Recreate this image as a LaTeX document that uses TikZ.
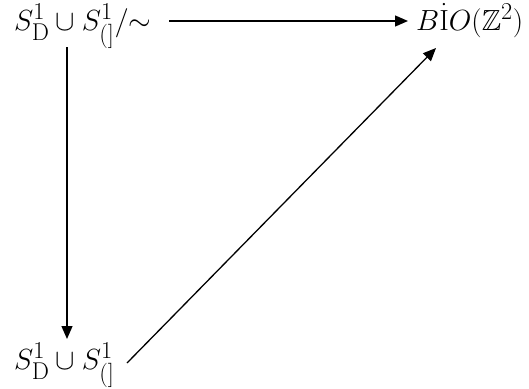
\documentclass[tikz,border=0pt]{standalone}
\usepackage{amssymb}
\usetikzlibrary{arrows.meta}
\begin{document}
\begin{tikzpicture}[x=1pt, y=-1pt, >={Triangle[length=13pt, width=11pt]},
    lbl/.style={anchor=base west, inner sep=0pt, scale=1.17, font=\fontsize{24.88}{30}\selectfont},
    map/.style={->, line width=1.3pt}]
    \useasboundingbox (0,0) rectangle (529,388);

    % Corners of the triangle
    \node[lbl] (quot) at (14, 30) {$S^1_{\mathrm{D}} \cup S^1_{(]}/{\sim}$};
    \node[lbl] (bio)  at (416, 30) {$B\dot{\mathrm{I}}O(\mathbb{Z}^2)$};
    \node[lbl] (disj) at (14, 369) {$S^1_{\mathrm{D}} \cup S^1_{(]}$};

    % Ends of the maps
    \coordinate (qe) at (169, 21);
    \coordinate (be) at (408, 21);
    \coordinate (top) at (67, 47);
    \coordinate (bot) at (67, 339);
    \coordinate (de) at (127, 363);
    \coordinate (tip) at (436, 48);

    % Maps
    \draw[map] (qe) -- (be);
    \draw[map] (top) -- (bot);
    \draw[map] (de) -- (tip);
\end{tikzpicture}
\end{document}
